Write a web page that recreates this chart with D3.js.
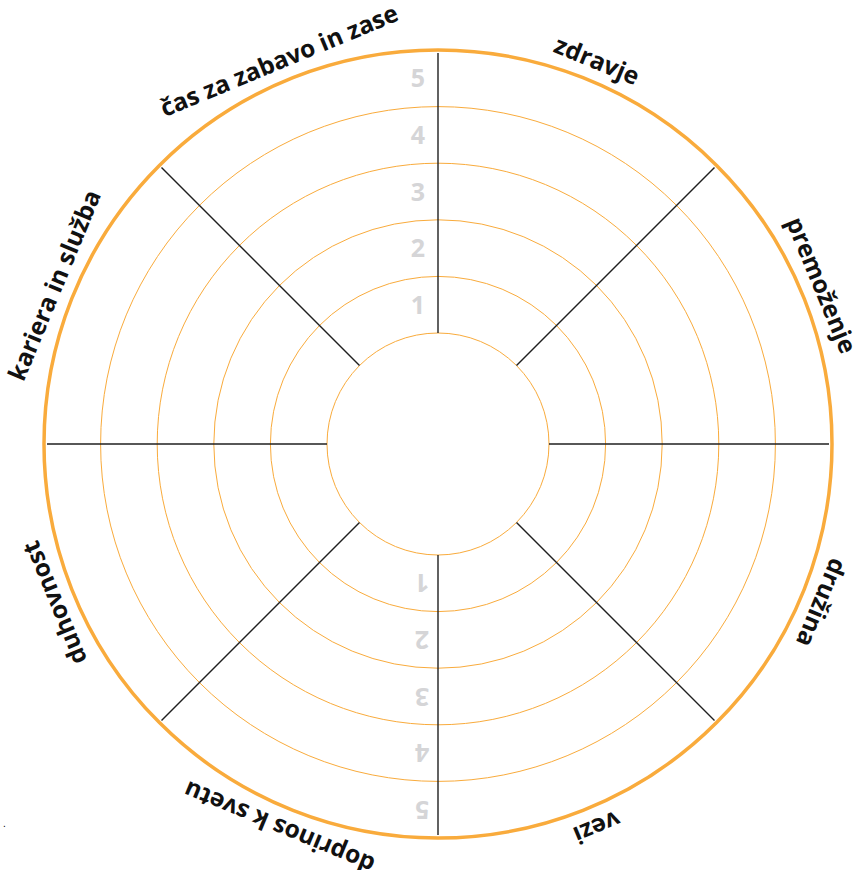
<!DOCTYPE html>
<html>
<head>
<meta charset="utf-8">
<script src="https://cdn.jsdelivr.net/npm/d3@7"></script>
<style>
  html, body { margin: 0; padding: 0; background: #fff; }
  svg { display: block; }
</style>
</head>
<body>
<svg id="wheel" width="865" height="870"></svg>
<script>
// wheel of life categories, clockwise from the top
var categories = ['zdravje', 'premoženje', 'družina', 'vezi', 'doprinos k svetu', 'duhovnost', 'kariera in služba', 'čas za zabavo in zase'];
var levels = [1, 2, 3, 4, 5];
var rings = [0, 1, 2, 3, 4, 5];

var cs = {
    width: 865,
    height: 870,
    cx: 438,
    cy: 444,
    pallette: {
        ring: '#f9ab3c',
        spoke: '#1f1f1f',
        label: '#111',
        number: '#d5d5d7'
    },
    inner: 111,
    outer: 394,
    labelRadius: 415
};

var svg = d3.select('#wheel');
var g = svg.append('g').attr('transform', 'translate(' + cs.cx + ',' + cs.cy + ')');

var r = d3.scaleLinear().domain([0, 5]).range([cs.inner, cs.outer]);
var angle = d3.scaleLinear().domain([0, categories.length]).range([0, 360]);

var polar = (deg, rad) => {
    var a = deg * Math.PI / 180;
    return [rad * Math.sin(a), -rad * Math.cos(a)];
};

// rings
g.selectAll('circle.ring')
    .data(rings)
    .enter()
    .append('circle')
    .attr('class', 'ring')
    .attr('r', d => r(d))
    .attr('fill', 'none')
    .attr('stroke', cs.pallette.ring)
    .attr('stroke-width', d => d === 5 ? 3.5 : 1);

// spokes between the sectors
g.selectAll('line.spoke')
    .data(categories)
    .enter()
    .append('line')
    .attr('class', 'spoke')
    .attr('x1', (d, i) => polar(angle(i), r(0))[0])
    .attr('y1', (d, i) => polar(angle(i), r(0))[1])
    .attr('x2', (d, i) => polar(angle(i), r(5) - 3)[0])
    .attr('y2', (d, i) => polar(angle(i), r(5) - 3)[1])
    .attr('stroke', cs.pallette.spoke)
    .attr('stroke-width', 1.4);

// category labels, rotated along the rim
g.selectAll('text.cat')
    .data(categories)
    .enter()
    .append('text')
    .attr('class', 'cat')
    .attr('transform', (d, i) => {
        var a = angle(i + 0.5), p = polar(a, cs.labelRadius);
        return 'translate(' + p[0] + ',' + p[1] + ') rotate(' + a + ')';
    })
    .attr('text-anchor', 'middle')
    .attr('dy', '0.35em')
    .attr('font-family', '"Open Sans", "Noto Sans", sans-serif')
    .attr('font-weight', 700)
    .attr('font-size', 24.5)
    .attr('fill', cs.pallette.label)
    .text(d => d);

// level numbers on the top spoke
g.selectAll('text.num-top')
    .data(levels)
    .enter()
    .append('text')
    .attr('class', 'num-top')
    .attr('x', -20)
    .attr('y', d => -r(d - 0.5))
    .attr('dy', '0.36em')
    .attr('text-anchor', 'middle')
    .attr('font-family', '"Open Sans", "Noto Sans", sans-serif')
    .attr('font-weight', 700)
    .attr('font-size', 25)
    .attr('fill', cs.pallette.number)
    .text(d => d);

// and upside down on the bottom spoke
g.selectAll('text.num-bottom')
    .data(levels)
    .enter()
    .append('text')
    .attr('class', 'num-bottom')
    .attr('transform', d => 'translate(-16,' + r(d - 0.5) + ') rotate(180)')
    .attr('dy', '0.36em')
    .attr('text-anchor', 'middle')
    .attr('font-family', '"Open Sans", "Noto Sans", sans-serif')
    .attr('font-weight', 700)
    .attr('font-size', 25)
    .attr('fill', cs.pallette.number)
    .text(d => d);

svg.append('text')
    .attr('x', 3)
    .attr('y', 827)
    .attr('font-size', 10)
    .attr('font-family', 'sans-serif')
    .text('.');
</script>
</body>
</html>
